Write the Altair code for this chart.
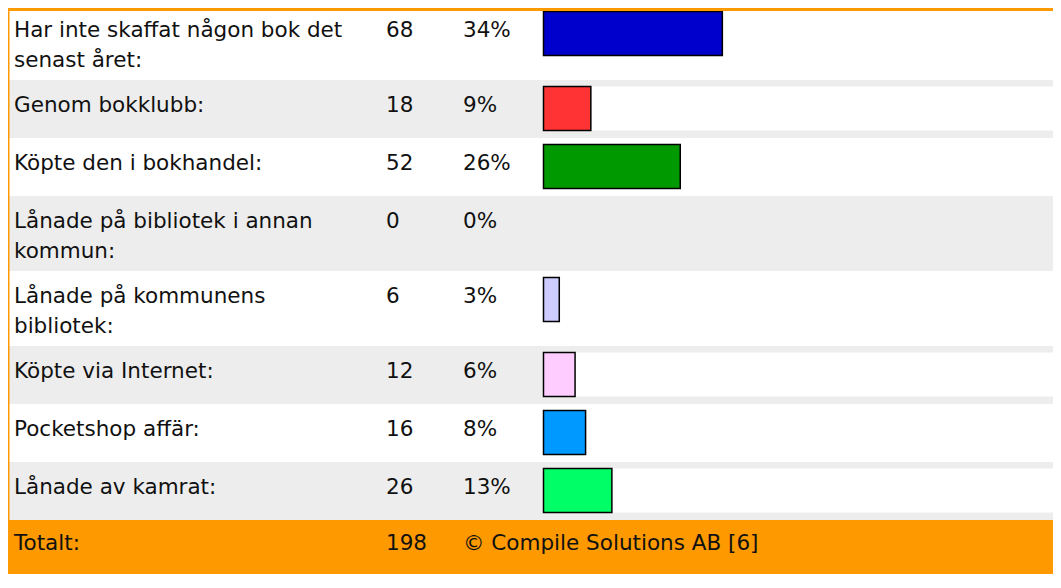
import altair as alt
import pandas as pd

# ---- data ----
labels = [
    ["Har inte skaffat någon bok det", "senast året:"],
    ["Genom bokklubb:"],
    ["Köpte den i bokhandel:"],
    ["Lånade på bibliotek i annan", "kommun:"],
    ["Lånade på kommunens", "bibliotek:"],
    ["Köpte via Internet:"],
    ["Pocketshop affär:"],
    ["Lånade av kamrat:"],
]
counts = [68, 18, 52, 0, 6, 12, 16, 26]
percents = [34, 9, 26, 0, 3, 6, 8, 13]
bar_colors = ["#0000CC", "#FF3333", "#009900", "#CCCCFF", "#CCCCFF", "#FFCCFF", "#0099FF", "#00FF66"]
total_label = "Totalt:"
total_count = 198
footer_note = "© Compile Solutions AB [6]"

# ---- layout (styles / sizes) ----
W, H = 1045, 566
OFFSET = 8            # page margin
LINE_H = 30.5
PAD = 14
BAR_H = 44
FONT = "DejaVu Sans"
FS = 21.5
ORANGE = "#FF9900"
GRAY = "#EDEDED"
BAR_START = 535.5     # px of count 0
PX_PER = 2.63         # px per count

rows = []
top = 5.0
for i, (lab, c, p, col) in enumerate(zip(labels, counts, percents, bar_colors)):
    h = max(LINE_H * len(lab), BAR_H) + PAD
    rows.append(dict(
        lines=lab, count=c, zero=0, count_txt=str(c), pct_txt=f"{p}%",
        color=col, bg=(GRAY if i % 2 else "#FFFFFF"),
        top=top, bottom=top + h, base=top + 31.5,
        btop=top + 6.5, bbot=top + 6.5 + BAR_H,
    ))
    top += h
df = pd.DataFrame(rows)
foot = pd.DataFrame([dict(top=top, bottom=OFFSET + H + 20, base=top + 30,
                          a=total_label, b=str(total_count), c=footer_note)])

ys = alt.Scale(domain=[OFFSET, OFFSET + H], range=[0, H], nice=False, zero=False)
xs = alt.Scale(domain=[-BAR_START / PX_PER, (W - BAR_START) / PX_PER], range=[0, W],
               nice=False, zero=False)

def Y(f):
    return alt.Y(f, type="quantitative", scale=ys, axis=None)

base = alt.Chart(df)

bgs = base.mark_rect().encode(
    x=alt.value(0), x2=alt.value(W),
    y=Y("top"), y2="bottom:Q",
    color=alt.Color("bg:N", scale=None),
)
inner = base.mark_rect(color="white").transform_filter("datum.count > 0").encode(
    x=alt.X("zero:Q", scale=xs, axis=None), x2=alt.value(W),
    y=Y("btop"), y2="bbot:Q",
)
bars = base.mark_rect(stroke="black", strokeWidth=1.5).transform_filter("datum.count > 0").encode(
    x=alt.X("count:Q", scale=xs, axis=None), x2="zero:Q",
    y=Y("btop"), y2="bbot:Q",
    color=alt.Color("color:N", scale=None),
)
txt = dict(align="left", baseline="alphabetic", font=FONT, fontSize=FS,
           lineHeight=LINE_H, color="#111111")
lab_t = base.mark_text(**txt).encode(x=alt.value(6), y=Y("base"), text="lines")
cnt_t = base.mark_text(**txt).encode(x=alt.value(378), y=Y("base"), text="count_txt:N")
pct_t = base.mark_text(**txt).encode(x=alt.value(455), y=Y("base"), text="pct_txt:N")

fb = alt.Chart(foot)
foot_r = fb.mark_rect(color=ORANGE).encode(
    x=alt.value(0), x2=alt.value(W), y=Y("top"), y2="bottom:Q")
f1 = fb.mark_text(**txt).encode(x=alt.value(6), y=Y("base"), text="a:N")
f2 = fb.mark_text(**txt).encode(x=alt.value(378), y=Y("base"), text="b:N")
f3 = fb.mark_text(**txt).encode(x=alt.value(455), y=Y("base"), text="c:N")

strip = fb.mark_rect(color=ORANGE).encode(
    x=alt.value(0), x2=alt.value(W), y=alt.value(0), y2=alt.value(3))
left = fb.mark_rect(color=ORANGE).encode(
    x=alt.value(0), x2=alt.value(1.5), y=Y("top"), y2=alt.value(0))

chart = alt.layer(
    bgs, inner, bars, foot_r, strip, left, lab_t, cnt_t, pct_t, f1, f2, f3
).properties(
    width=W, height=H, padding=0,
    autosize=alt.AutoSizeParams(type="none"),
).configure_view(strokeWidth=0)

chart.save("out.html", embed_options={"renderer": "svg", "actions": False})
